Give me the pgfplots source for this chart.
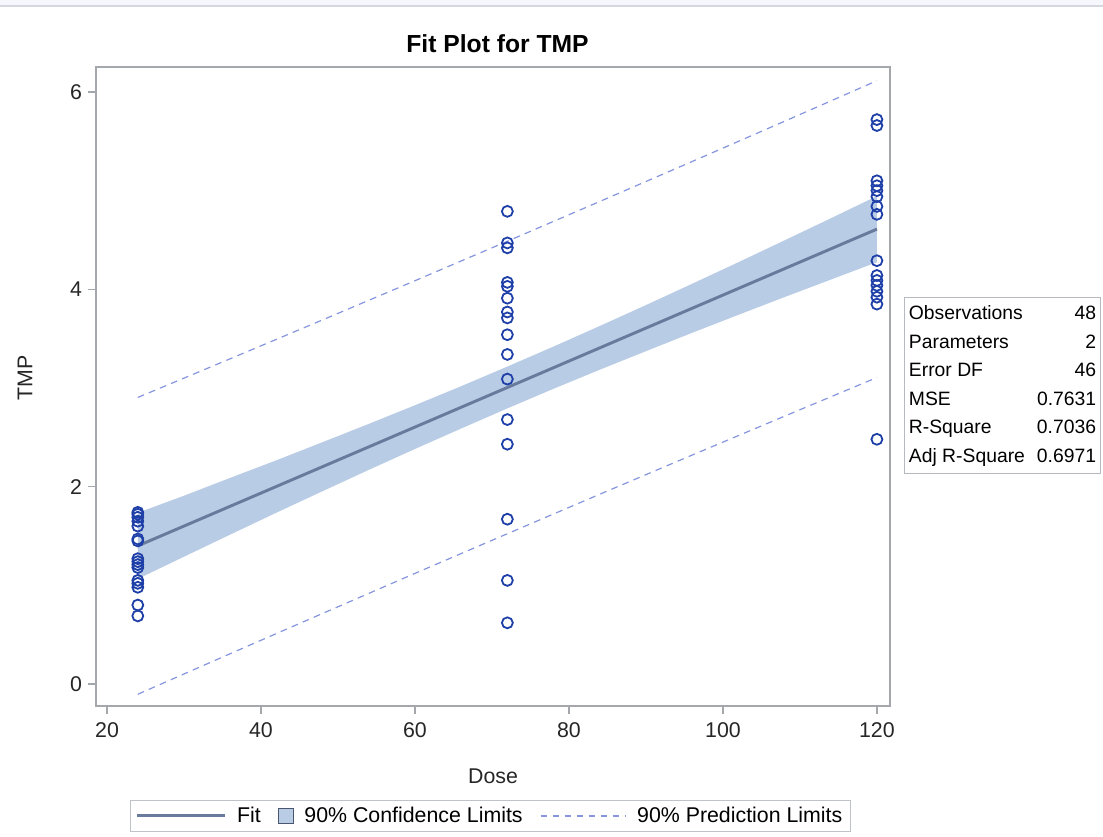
\documentclass[border=0pt]{standalone}
\usepackage{pgfplots}
\pgfplotsset{compat=1.18}
\usepackage{fontspec}
\setmainfont{Liberation Sans}
\definecolor{bandcol}{HTML}{B9CCE5}
\definecolor{fitcol}{HTML}{687B9C}
\definecolor{ptcol}{HTML}{1F3FA8}
\definecolor{picol}{HTML}{8595DE}
\definecolor{framecol}{HTML}{A4A8AD}
\definecolor{topcol}{HTML}{F6F7FC}
\definecolor{toplinecol}{HTML}{D4D6E0}
\begin{document}
\begin{tikzpicture}
\useasboundingbox (0pt,0pt) rectangle (827.25pt,627pt);
\fill[topcol] (0pt,627pt) rectangle (827.25pt,622.5pt);
\draw[toplinecol, line width=0.8pt] (0pt,622.5pt) -- (827.25pt,622.5pt);
\begin{axis}[
  at={(72pt,97.5pt)}, anchor=south west,
  scale only axis, width=595.5pt, height=479.25pt,
  xmin=18.57, xmax=121.7, ymin=-0.223, ymax=6.253,
  xtick={20,40,60,80,100,120}, ytick={0,2,4,6},
  /pgf/number format/assume math mode=true,
  axis line style={framecol, line width=1pt},
  tick align=outside, tick pos=left,
  major tick length=6pt,
  tick style={framecol, line width=0.9pt},
  ticklabel style={font=\fontsize{16}{19}\selectfont, text=black!85},
  xticklabel style={yshift=-3pt},
  yticklabel style={xshift=-1pt},
  title={Fit Plot for TMP},
  title style={font=\bfseries\fontsize{18.5}{22}\selectfont, at={(axis description cs:0.5057,1.024)}, anchor=center},
  xlabel={Dose},
  ylabel={TMP},
  label style={font=\fontsize{16}{19}\selectfont, text=black!85},
  xlabel style={at={(axis description cs:0.5,-0.1095)}, anchor=center},
  ylabel style={at={(axis description cs:-0.0894,0.513)}, anchor=center},
  legend columns=3,
  legend cell align=left,
  legend style={at={(axis description cs:0.4965,-0.172)}, anchor=center,
    draw=framecol!70, line width=0.8pt, font=\fontsize{16}{19}\selectfont,
    inner xsep=4pt, inner ysep=3pt,
    /tikz/every odd column/.append style={column sep=6pt},
    /tikz/every even column/.append style={column sep=11pt}},
]
\addlegendimage{legend image code/.code={\draw[fitcol, line width=2.2pt] (0pt,0pt) -- (66pt,0pt);}}
\addlegendentry{Fit}
\addlegendimage{legend image code/.code={\draw[fill=bandcol, draw=fitcol!70!black, line width=0.8pt] (0pt,-5.5pt) rectangle (11pt,5.5pt);}}
\addlegendentry{90\% Confidence Limits}
\addlegendimage{legend image code/.code={\draw[picol, line width=0.9pt, dash pattern=on 5pt off 4pt] (0pt,0pt) -- (64pt,0pt);}}
\addlegendentry{90\% Prediction Limits}

% confidence band
\addplot[fill=bandcol, draw=none, forget plot] coordinates {
 (24,1.735) (30,1.908) (36,2.089) (42,2.267) (48,2.451) (54,2.636) (60,2.825) (66,3.018) (72,3.217)
 (78,3.420) (84,3.628) (90,3.840) (96,4.056) (102,4.274) (108,4.496) (114,4.719) (120,4.945)
 (120,4.275) (114,4.098) (108,3.921) (102,3.741) (96,3.559) (90,3.373) (84,3.185) (78,2.992) (72,2.793)
 (66,2.589) (60,2.382) (54,2.170) (48,1.954) (42,1.736) (36,1.514) (30,1.290) (24,1.065)
} -- cycle;
% prediction limits
\addplot[picol, line width=0.9pt, dash pattern=on 5pt off 4pt, forget plot] coordinates {
 (24,2.904) (36,3.296) (48,3.690) (60,4.087) (72,4.487) (84,4.890) (96,5.295) (108,5.703) (120,6.114)};
\addplot[picol, line width=0.9pt, dash pattern=on 5pt off 4pt, forget plot] coordinates {
 (24,-0.104) (36,0.307) (48,0.715) (60,1.121) (72,1.523) (84,1.923) (96,2.320) (108,2.714) (120,3.106)};
% fit
\addplot[fitcol, line width=2.2pt, forget plot] coordinates {(24,1.400) (120,4.610)};
% observations
\addplot[only marks, mark=o, mark size=4.1pt, mark options={ptcol, line width=1.35pt}, forget plot] table {
x y
24 1.74
24 1.72
24 1.69
24 1.65
24 1.60
24 1.47
24 1.45
24 1.27
24 1.24
24 1.21
24 1.18
24 1.05
24 1.02
24 0.98
24 0.80
24 0.69
72 4.79
72 4.47
72 4.42
72 4.07
72 4.03
72 3.91
72 3.77
72 3.71
72 3.54
72 3.34
72 3.09
72 2.68
72 2.43
72 1.67
72 1.05
72 0.62
120 5.72
120 5.66
120 5.10
120 5.05
120 5.00
120 4.94
120 4.84
120 4.76
120 4.29
120 4.14
120 4.09
120 4.04
120 3.98
120 3.92
120 3.85
120 2.48
};
\end{axis}
% statistics box
\node[draw=framecol!80, line width=0.8pt, inner xsep=3.5pt, inner ysep=2pt, anchor=center, fill=white]
  at (751.9pt,337.9pt) {\fontsize{14.5}{21.4}\selectfont
  \begin{tabular}{@{}l@{\hspace{9pt}}r@{}}
  Observations & 48\\
  Parameters & 2\\
  Error DF & 46\\
  MSE & 0.7631\\
  R-Square & 0.7036\\
  Adj R-Square & 0.6971
  \end{tabular}};
\end{tikzpicture}
\end{document}
